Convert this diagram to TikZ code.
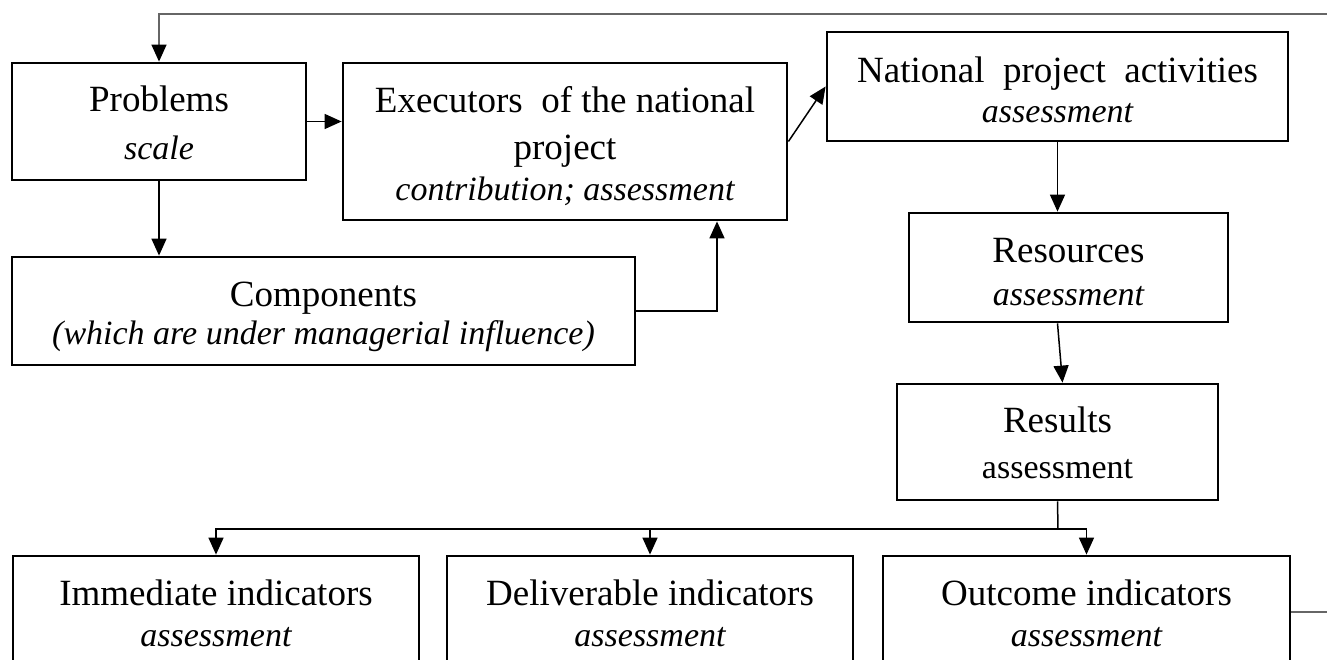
\documentclass[tikz,border=0pt]{standalone}
\usepackage{fontspec}
\setmainfont{Liberation Serif}
\usetikzlibrary{arrows.meta}
\tikzset{
  box/.style={draw, line width=2.8pt, inner sep=0pt},
  ttl/.style={anchor=base, inner sep=0pt, font=\fontsize{37}{45}\selectfont},
  sub/.style={anchor=base, inner sep=0pt, font=\fontsize{34}{41}\selectfont\itshape},
  subup/.style={anchor=base, inner sep=0pt, font=\fontsize{34}{41}\selectfont},
  conn/.style={line width=1.5pt, -{Triangle[length=17pt,width=15pt,color=black]}},
  plain/.style={line width=1.5pt},
}
\begin{document}
\begin{tikzpicture}[x=1pt,y=-1pt]
\useasboundingbox (0,0) rectangle (1327,660);
\clip (0,0) rectangle (1327,660);
% boxes
\node[box, minimum width=294pt, minimum height=117pt] (prob) at (159,121.5) {};
\node[box, minimum width=444pt, minimum height=157pt] (exec) at (565,141.5) {};
\node[box, minimum width=461pt, minimum height=109pt] (nat) at (1057.5,86.5) {};
\node[box, minimum width=623pt, minimum height=108pt] (comp) at (323.5,311) {};
\node[box, minimum width=319pt, minimum height=109pt] (res) at (1068.5,267.5) {};
\node[box, minimum width=321pt, minimum height=116pt] (resu) at (1057.5,442) {};
\node[box, minimum width=406pt, minimum height=122pt] (imm) at (216,617) {};
\node[box, minimum width=406pt, minimum height=122pt] (del) at (650,617) {};
\node[box, minimum width=407pt, minimum height=122pt] (out) at (1086.5,617) {};
% texts
\node[ttl] (prob-t) at (159,112) {Problems};
\node[sub] (prob-s) at (159,160) {scale};
\node[ttl] (exec-t1) at (565,113) {Executors \ of the national};
\node[ttl] (exec-t2) at (565,160) {project};
\node[sub] (exec-s) at (565,201) {contribution; assessment};
\node[ttl] (nat-t) at (1057.5,83) {National \ project \ activities};
\node[sub] (nat-s) at (1057.5,123) {assessment};
\node[ttl] (comp-t) at (323.5,306) {Components};
\node[sub] (comp-s) at (323.5,344) {(which are under managerial influence)};
\node[ttl] (res-t) at (1068.5,262) {Resources};
\node[sub] (res-s) at (1068.5,305) {assessment};
\node[ttl] (resu-t) at (1057.5,432) {Results};
\node[subup] (resu-s) at (1057.5,478) {assessment};
\node[ttl] (imm-t) at (216,605) {Immediate indicators};
\node[sub] (imm-s) at (216,646) {assessment};
\node[ttl] (del-t) at (650,605) {Deliverable indicators};
\node[sub] (del-s) at (650,646) {assessment};
\node[ttl] (out-t) at (1086.5,605) {Outcome indicators};
\node[sub] (out-s) at (1086.5,646) {assessment};
% connectors
\coordinate (fbT) at (1327,14);
\coordinate (fbB) at (1327,612);
\coordinate (split) at (1058,529);
\draw[conn, draw=black!60] (fbT) -| (prob.north);
\draw[conn] (prob.east) -- (prob.east -| exec.west);
\draw[conn] (exec.east) -- (nat.west);
\draw[conn] (prob.south) -- (prob.south |- comp.north);
\draw[conn] (comp.east) -| ([xshift=152pt]exec.south);
\draw[conn] (nat.south) -- (nat.south |- res.north);
\draw[conn] ([xshift=-11pt]res.south) -- ([xshift=5pt]resu.north);
\draw[plain] (resu.south) -- (split);
\draw[conn] (split) -| (imm.north);
\draw[conn] (split) -| (del.north);
\draw[conn] (split) -| (out.north);
\draw[plain, draw=black!60] (fbB -| out.east) -- (fbB);
\end{tikzpicture}
\end{document}
